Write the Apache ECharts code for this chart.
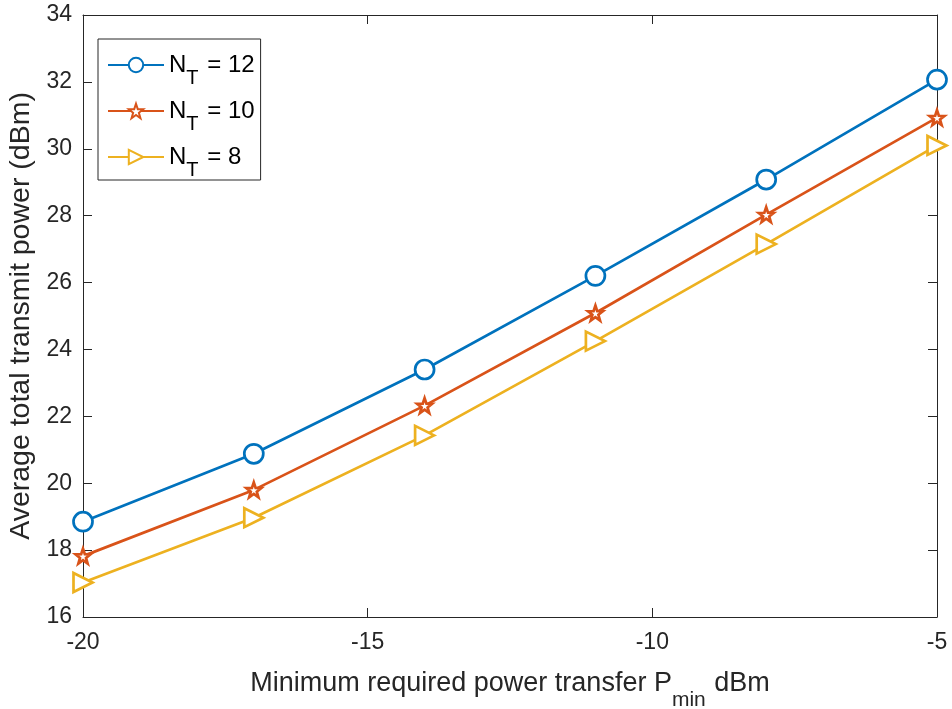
<!DOCTYPE html>
<html><head><meta charset="utf-8">
<script src="https://cdn.jsdelivr.net/npm/echarts@6/dist/echarts.min.js"></script>
<style>html,body{margin:0;padding:0;background:#fff}#c{width:952px;height:709px}</style>
</head><body><div id="c"></div>
<script>
const xValues = [-20, -17, -14, -11, -8, -5];
const nt12 = [18.85, 20.88, 23.4, 26.2, 29.08, 32.07];
const nt10 = [17.82, 19.8, 22.32, 25.09, 28.03, 30.93];
const nt8 = [17.03, 18.97, 21.43, 24.25, 27.15, 30.1];
const seriesNames = ['{m|N}{s|T}{m| = 12}', '{m|N}{s|T}{m| = 10}', '{m|N}{s|T}{m| = 8}'];
const colors = ['#0072BD', '#D95319', '#EDB120'];
const xTitle = '{m|Minimum required power transfer P}{s|min}{m| dBm}';
const yTitle = 'Average total transmit power (dBm)';

const font = 'Liberation Sans, Arial, sans-serif';
const axisColor = '#262626';
const starPath = 'path://M0,-10 L2.35,-3.24 L9.51,-3.09 L3.8,1.24 L5.88,8.09 L0,4 L-5.88,8.09 L-3.8,1.24 L-9.51,-3.09 L-2.35,-3.24 Z';

function pairs(ys){ return xValues.map((x,i)=>[x, ys[i]]); }

const chart = echarts.init(document.getElementById('c'), null, {renderer:'canvas'});
const baseX = {
  type:'value', min:-20, max:-5, interval:5,
  axisLine:{show:true, lineStyle:{color:axisColor, width:1}},
  axisTick:{show:true, inside:true, length:9, lineStyle:{color:axisColor}},
  splitLine:{show:false}
};
const baseY = {
  type:'value', min:16, max:34, interval:2,
  axisLine:{show:true, lineStyle:{color:axisColor, width:1}},
  axisTick:{show:true, inside:true, length:9, lineStyle:{color:axisColor}},
  splitLine:{show:false}
};
chart.setOption({
  animation:false,
  backgroundColor:'#fff',
  grid:{left:83, right:15, top:15, bottom:92, containLabel:false, outerBoundsMode:'none'},
  xAxis:[
    Object.assign({}, baseX, {position:'bottom',
      name:xTitle, nameLocation:'middle', nameGap:53,
      nameTextStyle:{fontFamily:font, fontSize:27, color:axisColor, verticalAlign:'top',
        rich:{
          m:{fontFamily:font, fontSize:27, lineHeight:27, color:axisColor, verticalAlign:'top'},
          s:{fontFamily:font, fontSize:21, lineHeight:21, color:axisColor, verticalAlign:'top', padding:[20,1,0,0]}
        }},
      axisLabel:{fontFamily:font, fontSize:23, color:axisColor, margin:14}}),
    Object.assign({}, baseX, {position:'top', axisLabel:{show:false}})
  ],
  yAxis:[
    Object.assign({}, baseY, {position:'left',
      name:yTitle, nameLocation:'middle', nameGap:44,
      nameTextStyle:{fontFamily:font, fontSize:28.5, color:axisColor},
      axisLabel:{fontFamily:font, fontSize:23, color:axisColor, margin:11}}),
    Object.assign({}, baseY, {position:'right', axisLabel:{show:false}})
  ],
  legend:{
    show:true, orient:'vertical', left:98, top:39,
    padding:[14,6,0,9], itemGap:11, itemWidth:56, itemHeight:18,
    borderColor:axisColor, borderWidth:1, backgroundColor:'#fff',
    textStyle:{fontFamily:font, fontSize:24, color:'#000',
      rich:{
        m:{fontFamily:font, fontSize:24, lineHeight:24, color:'#000', verticalAlign:'top'},
        s:{fontFamily:font, fontSize:20, lineHeight:20, color:'#000', verticalAlign:'top', padding:[15,2,0,0]}
      }},
    data: seriesNames
  },
  series:[
    {name:seriesNames[0], type:'line', data:pairs(nt12),
     symbol:'circle', symbolSize:19, lineStyle:{width:2.7, color:colors[0]},
     itemStyle:{color:'#fff', borderColor:colors[0], borderWidth:2.7}},
    {name:seriesNames[1], type:'line', data:pairs(nt10),
     symbol:starPath, symbolSize:15, lineStyle:{width:2.7, color:colors[1]},
     itemStyle:{color:'#fff', borderColor:colors[1], borderWidth:2.7}},
    {name:seriesNames[2], type:'line', data:pairs(nt8),
     symbol:'triangle', symbolRotate:-90, symbolSize:19, lineStyle:{width:2.7, color:colors[2]},
     itemStyle:{color:'#fff', borderColor:colors[2], borderWidth:2.7}}
  ]
});
</script></body></html>
